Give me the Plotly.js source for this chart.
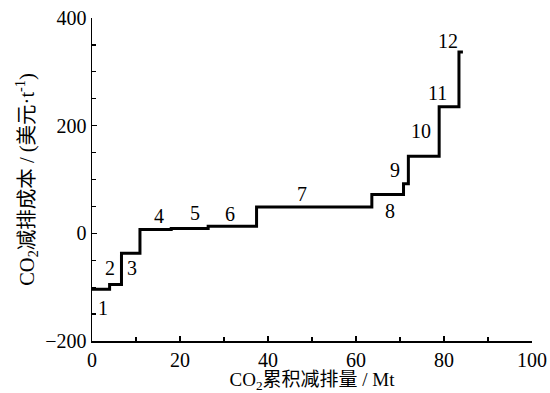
<!DOCTYPE html>
<html><head><meta charset="utf-8">
<script src="https://cdn.plot.ly/plotly-3.0.1.min.js"></script>
<style>html,body{margin:0;padding:0;background:#fff}#c{width:550px;height:393px}</style>
</head><body><div id="c"></div>
<script>
// step starts (Mt) and costs (USD/t) for measures 1..12, plus end of last step
const stepStart = [0, 4.0, 6.7, 10.9, 18.0, 26.4, 37.4, 63.6, 70.8, 71.9, 78.9, 83.4];
const stepEnd = 84.3;
const stepCost = [-104, -95, -37, 7, 9, 13, 49, 72, 92, 143, 235, 337];
const labels = ['1','2','3','4','5','6','7','8','9','10','11','12'];
const labelX = [2.5, 4.1, 9.1, 15.2, 23.4, 31.4, 47.7, 67.7, 68.8, 74.8, 78.6, 80.9];
const labelY = [-139, -65, -65, 33, 37, 35, 73, 41, 117, 190, 260, 357];

const xs = stepStart.concat([stepEnd]);
const ys = stepCost.concat([stepCost[stepCost.length-1]]);

const serif = 'Liberation Serif, Noto Sans CJK SC, serif';
const trace = {x: xs, y: ys, type: 'scatter', mode: 'lines',
  line: {shape: 'hv', color: '#000', width: 3}, hoverinfo: 'skip'};

const annotations = labels.map((t, i) => ({x: labelX[i], y: labelY[i], text: t,
  showarrow: false, font: {family: serif, size: 20, color: '#000'}, xanchor: 'center', yanchor: 'middle'}));

const layout = {
  width: 550, height: 393, margin: {l: 92, r: 18, t: 18, b: 52},
  paper_bgcolor: '#fff', plot_bgcolor: '#fff', showlegend: false,
  font: {family: serif, size: 19, color: '#000'},
  xaxis: {range: [0, 100], dtick: 20, tick0: 0, showgrid: false, zeroline: false,
    showline: true, linecolor: '#000', linewidth: 1.5, ticks: 'inside', ticklen: 5, tickwidth: 1.5, tickcolor: '#000',
    minor: {dtick: 10, ticks: 'inside', ticklen: 4, tickcolor: '#000', tickwidth: 1.2},
    tickfont: {family: serif, size: 20},
    title: {text: 'CO<sub>2</sub>累积减排量 / Mt', font: {family: serif, size: 19}, standoff: 4}},
  yaxis: {range: [-200, 400], dtick: 200, tick0: -200, showgrid: false, zeroline: false,
    showline: true, linecolor: '#000', linewidth: 1.5, ticks: 'inside', ticklen: 5, tickwidth: 1.5, tickcolor: '#000',
    minor: {dtick: 50, ticks: 'inside', ticklen: 4, tickcolor: '#000', tickwidth: 1.2},
    tickfont: {family: serif, size: 20}, tickformat: 'd',
    title: {text: 'CO<sub>2</sub>减排成本 / (美元·t<sup>-1</sup>)', font: {family: serif, size: 20.5}, standoff: 5}},
  annotations: annotations
};
Plotly.newPlot('c', [trace], layout, {staticPlot: true, displayModeBar: false});
</script></body></html>
